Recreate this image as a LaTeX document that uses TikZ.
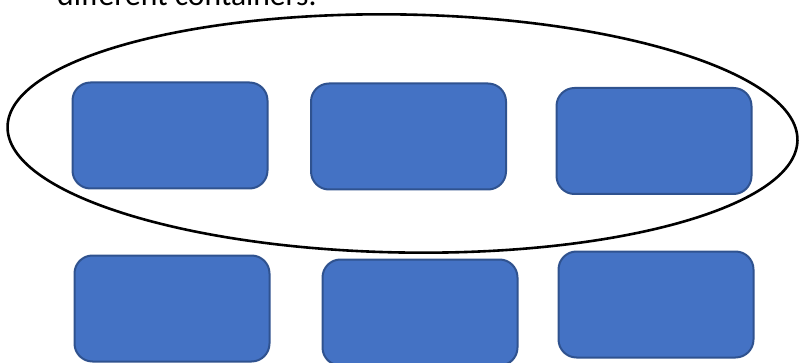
\documentclass[tikz,border=0pt]{standalone}
\usepackage{fontspec}
\setmainfont{Carlito}
\usepackage{tikz}
\usetikzlibrary{positioning}
\definecolor{boxfill}{RGB}{68,114,196}
\definecolor{boxline}{RGB}{47,82,143}

\begin{document}
\begin{tikzpicture}[x=1pt, y=-1pt,
        box/.style={draw=boxline, fill=boxfill, line width=2pt, rounded corners=18pt,
                    minimum width=195pt, minimum height=106pt, inner sep=0pt}]
            \useasboundingbox (0,0) rectangle (799,363);
            \clip (0,0) rectangle (799,363);
            \node[anchor=base west, inner sep=0pt, font=\fontsize{31.6}{38}\selectfont] (caption) at (57,6) {different containers.};
            % top row
            \node[box] (a1) at (170,135.5) {};
            \node[box] (a2) at (408.5,136.5) {};
            \node[box] (a3) at (654,141) {};
            % the ring round the top row
            \draw[line width=2.6pt, rotate around={-1:(402.5,133.5)}] (402.5,133.5) ellipse [x radius=395, y radius=119];
            % bottom row
            \node[box] (b1) at (172,308.5) {};
            \node[box] (b2) at (420,312.5) {};
            \node[box] (b3) at (656,304.5) {};
        \end{tikzpicture}
\end{document}
